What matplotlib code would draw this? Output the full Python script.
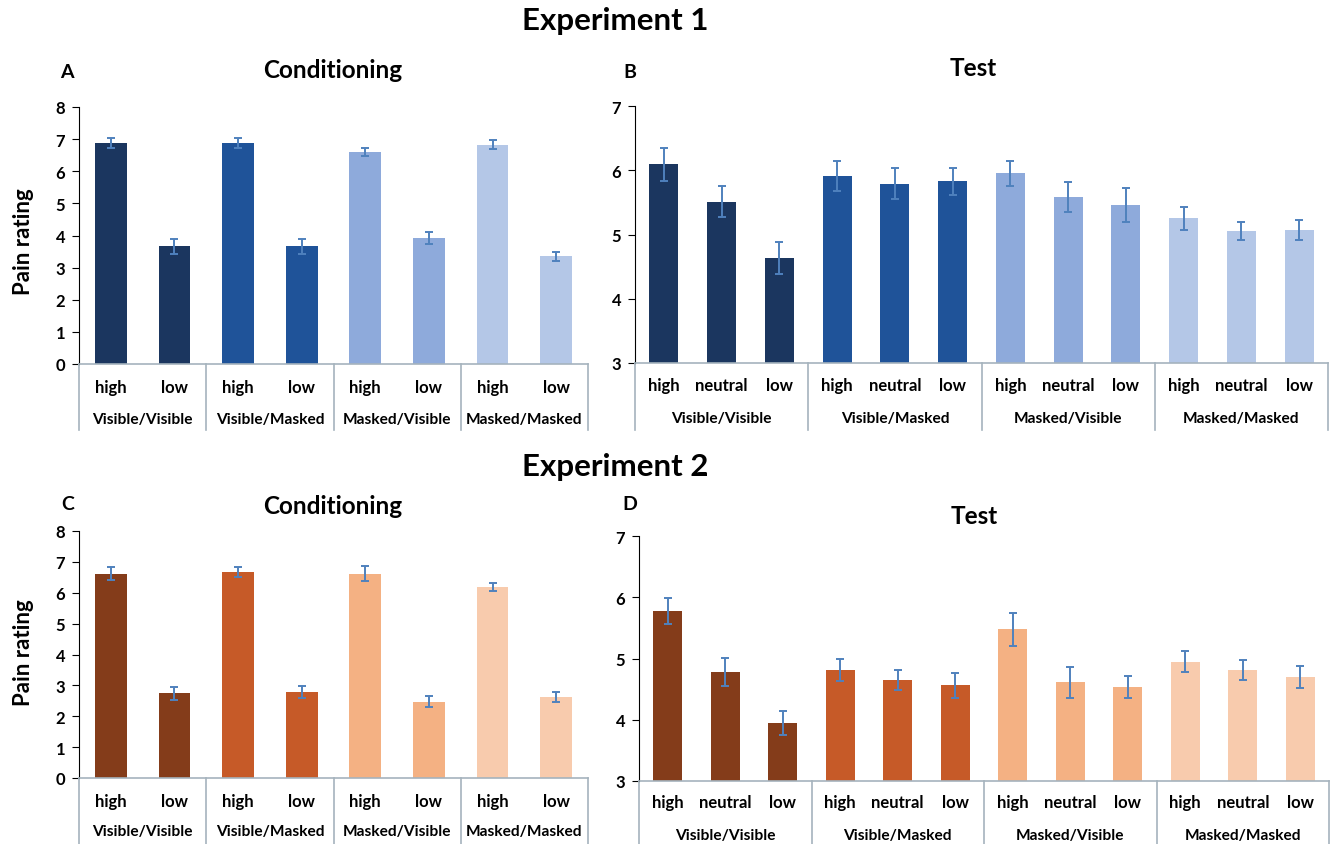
import matplotlib
matplotlib.use('Agg')
import matplotlib.pyplot as plt
import matplotlib.transforms as mtransforms
import numpy as np

plt.rcParams['font.family'] = ['Lato', 'DejaVu Sans']
plt.rcParams['font.weight'] = 'bold'

W, H = 1333, 845

groups = ['Visible/Visible', 'Visible/Masked', 'Masked/Visible', 'Masked/Masked']
cond_levels = ['high', 'low']
test_levels = ['high', 'neutral', 'low']

# Experiment 1 - conditioning
exp1_cond = [6.88, 3.66, 6.88, 3.66, 6.60, 3.91, 6.83, 3.35]
exp1_cond_err = [0.17, 0.23, 0.17, 0.23, 0.13, 0.19, 0.14, 0.15]
# Experiment 1 - test
exp1_test = [6.09, 5.51, 4.63, 5.91, 5.79, 5.83, 5.95, 5.58, 5.46, 5.25, 5.05, 5.07]
exp1_test_err = [0.26, 0.24, 0.25, 0.23, 0.24, 0.21, 0.19, 0.23, 0.27, 0.18, 0.14, 0.16]
# Experiment 2 - conditioning
exp2_cond = [6.62, 2.74, 6.67, 2.78, 6.62, 2.47, 6.19, 2.62]
exp2_cond_err = [0.20, 0.20, 0.16, 0.19, 0.24, 0.17, 0.13, 0.15]
# Experiment 2 - test
exp2_test = [5.77, 4.78, 3.95, 4.81, 4.65, 4.56, 5.48, 4.61, 4.54, 4.95, 4.81, 4.70]
exp2_test_err = [0.21, 0.23, 0.20, 0.18, 0.17, 0.20, 0.27, 0.25, 0.18, 0.17, 0.16, 0.18]

blues = ['#1b365f', '#1f5399', '#8eaadb', '#b4c7e7']
oranges = ['#843c1a', '#c65a28', '#f4b183', '#f8cbad']
err_color = '#4f81bd'
sep_color = '#a5b3bd'


def px_axes(x0, y0, x1, y1):
    """Axes from pixel box (left, top, right, bottom)."""
    return fig.add_axes([x0 / W, 1 - y1 / H, (x1 - x0) / W, (y1 - y0) / H])


def panel(ax, values, errs, levels, palette, ylim, yticks, box, row_px, sep_bottom):
    n_lev = len(levels)
    n = len(values)
    x = np.arange(n)
    colors = [palette[i // n_lev] for i in range(n)]
    ax.bar(x, np.array(values) - ylim[0], bottom=ylim[0], width=0.5,
           color=colors, zorder=2)
    ax.errorbar(x, values, yerr=errs, fmt='none', ecolor=err_color,
                elinewidth=1.4, capsize=3.2, capthick=1.4, zorder=3)
    ax.set_xlim(-0.5, n - 0.5)
    ax.set_ylim(*ylim)
    ax.set_yticks(yticks)
    ax.set_xticks([])
    for s in ['top', 'right']:
        ax.spines[s].set_visible(False)
    ax.spines['bottom'].set_color(sep_color)
    ax.spines['bottom'].set_linewidth(1.2)
    ax.spines['left'].set_color('black')
    ax.tick_params(axis='y', direction='out', length=5, labelsize=12, pad=5)
    for lab in ax.get_yticklabels():
        lab.set_fontweight('bold')

    # multi-level category axis
    top, bottom = box[1], box[3]
    hgt = bottom - top
    trans = mtransforms.blended_transform_factory(ax.transData, ax.transAxes)

    def ay(py):
        return (bottom - py) / hgt

    for g in range(len(groups) + 1):
        xs = g * n_lev - 0.5
        ax.plot([xs, xs], [0, ay(sep_bottom)], color=sep_color, lw=1.2,
                transform=trans, clip_on=False)
    for i in range(n):
        ax.text(i, ay(row_px[0]), levels[i % n_lev], transform=trans,
                ha='center', va='center', fontsize=12, fontweight='bold')
    for g, name in enumerate(groups):
        ax.text(g * n_lev + (n_lev - 1) / 2, ay(row_px[1]), name,
                transform=trans, ha='center', va='center', fontsize=11.2,
                fontweight='bold')


fig = plt.figure(figsize=(W / 100, H / 100), dpi=100)

boxA = (79, 108, 588, 365)
boxB = (635, 107, 1328, 364)
boxC = (79, 532, 588, 779)
boxD = (639, 537, 1329, 782)

axA = px_axes(*boxA)
panel(axA, exp1_cond, exp1_cond_err, cond_levels, blues, (0, 8), range(0, 9),
      boxA, (388, 420), 431)
axB = px_axes(*boxB)
panel(axB, exp1_test, exp1_test_err, test_levels, blues, (3, 7), range(3, 8),
      boxB, (386, 419), 431)
axC = px_axes(*boxC)
panel(axC, exp2_cond, exp2_cond_err, cond_levels, oranges, (0, 8), range(0, 9),
      boxC, (802, 832), 845)
axD = px_axes(*boxD)
panel(axD, exp2_test, exp2_test_err, test_levels, oranges, (3, 7), range(3, 8),
      boxD, (803, 836), 845)


def ftext(px, py, s, size, **kw):
    fig.text(px / W, 1 - py / H, s, fontsize=size, fontweight='bold',
             ha=kw.pop('ha', 'center'), va=kw.pop('va', 'center'), **kw)


ftext(615, 21, 'Experiment 1', 22.5)
ftext(615, 467, 'Experiment 2', 22.5)
ftext(67, 73, 'A', 14)
ftext(333, 70, 'Conditioning', 17.5)
ftext(630, 73, 'B', 14)
ftext(973, 68, 'Test', 17.5)
ftext(68, 505, 'C', 14)
ftext(333, 507, 'Conditioning', 17.5)
ftext(630, 505, 'D', 14)
ftext(974, 517, 'Test', 17.5)
ftext(23, 242, 'Pain rating', 16, rotation=90)
ftext(23, 653, 'Pain rating', 16, rotation=90)

fig.savefig('out.png', dpi=100)
